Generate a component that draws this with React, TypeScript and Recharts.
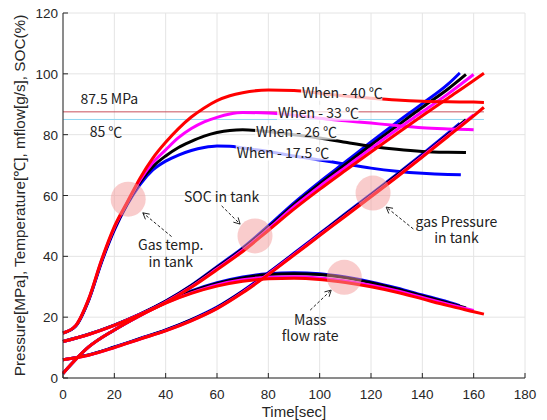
import React from 'react';
import { LineChart, Line, XAxis, YAxis, CartesianGrid, ReferenceLine, ReferenceDot } from 'recharts';

// time grids (sec)
const TEMP_T_BLUE = [0, 5, 10, 15, 20, 25, 30, 35, 40, 45, 50, 55, 60, 65, 70, 80, 90, 100, 110, 120, 130, 140, 150, 155];
const TEMP_T_BLACK = [0, 5, 10, 15, 20, 25, 30, 35, 40, 45, 50, 55, 60, 65, 70, 80, 90, 100, 110, 120, 130, 140, 150, 157];
const TEMP_T_MAGENTA = [0, 5, 10, 15, 20, 25, 30, 35, 40, 45, 50, 55, 60, 65, 70, 80, 90, 100, 110, 120, 130, 140, 150, 160];
const TEMP_T_RED = [0, 5, 10, 15, 20, 25, 30, 35, 40, 45, 50, 55, 60, 65, 70, 80, 90, 100, 110, 120, 130, 140, 150, 160, 164];

const T_BLUE = [0, 10, 20, 30, 40, 50, 60, 70, 80, 90, 100, 110, 120, 130, 140, 150, 154.6];
const T_BLACK = [0, 10, 20, 30, 40, 50, 60, 70, 80, 90, 100, 110, 120, 130, 140, 150, 157];
const T_MAGENTA = [0, 10, 20, 30, 40, 50, 60, 70, 80, 90, 100, 110, 120, 130, 140, 150, 160];
const T_RED = [0, 10, 20, 30, 40, 50, 60, 70, 80, 90, 100, 110, 120, 130, 140, 150, 160, 164];

// gas temperature in tank
const TEMP_BLUE = [14.8, 17.1, 25.5, 38, 48.6, 57, 63.6, 68.4, 71.3, 73.3, 74.8, 75.8, 76.3, 76.2, 75.6, 74.5, 73, 71.7, 70.3, 69, 68, 67.3, 66.9, 66.8];
const TEMP_BLACK = [14.8, 17.2, 25.7, 38.3, 49, 57.3, 64.4, 69.5, 73, 75.8, 77.8, 79.5, 80.7, 81.4, 81.6, 81, 80, 78.9, 77.5, 76.2, 75.2, 74.5, 74.2, 74.1];
const TEMP_MAGENTA = [14.8, 17.3, 25.9, 38.6, 49.4, 57.6, 65, 70.8, 75, 79, 82, 84.2, 85.7, 86.8, 87.3, 87.1, 86.4, 85.4, 84.6, 83.8, 83, 82.3, 81.9, 81.6];
const TEMP_RED = [14.8, 17.3, 26, 38.8, 49.8, 57.8, 65.7, 72.3, 77.5, 82, 85.8, 88.8, 91.2, 92.8, 93.8, 94.7, 94.5, 93.6, 92.7, 92, 91.4, 91, 90.8, 90.7, 90.6];

// SOC in tank
const SOC_BLUE = [12, 14.4, 17.4, 21, 25.3, 30.5, 36.6, 42.8, 50, 57.6, 64.5, 71, 77.6, 84, 90.2, 96.6, 100.3];
const SOC_BLACK = [12, 14.4, 17.4, 21, 25.2, 30.3, 36.3, 42.4, 49.5, 57, 63.8, 70.2, 76.6, 82.8, 89, 95, 99.8];
const SOC_MAGENTA = [12, 14.3, 17.3, 20.9, 25, 30, 35.9, 42, 49, 56.3, 63, 69.2, 75.5, 81.6, 87.5, 93.4, 99.8];
const SOC_RED = [12, 14.3, 17.3, 20.8, 24.8, 29.8, 35.6, 41.6, 48.5, 55.5, 62, 68.2, 74.3, 80.3, 86.2, 92, 97.8, 100.2];

// gas pressure in tank
const PRES_BLUE = [6, 7.6, 10.2, 13, 15.8, 19.2, 23.3, 28.6, 34.6, 41, 47.5, 54, 60.4, 66.9, 73.6, 80.5, 83.7];
const PRES_BLACK = [6, 7.6, 10.1, 12.9, 15.7, 19.1, 23.1, 28.4, 34.4, 40.8, 47.2, 53.7, 60.1, 66.6, 73.2, 80, 84.9];
const PRES_MAGENTA = [6, 7.5, 10, 12.8, 15.6, 18.9, 22.9, 28.2, 34.2, 40.6, 47, 53.4, 59.8, 66.2, 72.9, 79.7, 86.5];
const PRES_RED = [6, 7.5, 10, 12.8, 15.5, 18.8, 22.8, 28, 34, 40.4, 46.8, 53.2, 59.6, 66, 72.6, 79.4, 86.2, 89];

// mass flow rate
const FLOW_BLUE = [1.5, 10.2, 15.8, 20.6, 25, 28.6, 31.3, 33.2, 34.3, 34.6, 34.3, 33.2, 31.6, 29.6, 27.3, 25, 23.8];
const FLOW_BLACK = [1.5, 10.2, 15.8, 20.6, 24.9, 28.4, 31.1, 32.9, 34, 34.3, 34, 33, 31.3, 29.3, 27, 24.7, 23];
const FLOW_MAGENTA = [1.5, 10.2, 15.8, 20.5, 24.7, 28, 30.6, 32.3, 33.1, 33.3, 32.9, 31.9, 30.5, 28.7, 26.5, 24.3, 22.2];
const FLOW_RED = [1.5, 10.2, 15.8, 20.5, 24.6, 27.8, 30.2, 31.8, 32.6, 32.8, 32.4, 31.4, 30, 28.2, 26, 23.8, 21.8, 21];

const X_TICKS = [0, 20, 40, 60, 80, 100, 120, 140, 160, 180];
const Y_TICKS = [0, 20, 40, 60, 80, 100, 120];

const FONT = "'Liberation Sans', Arial, sans-serif";
const NOTE_FONT = "'Noto Sans CJK KR', 'Noto Sans', sans-serif";
const INK = '#262626';

const pts = (ts: number[], vs: number[]) => ts.map((t, i) => ({ t, v: vs[i] }));

const series = [
  { id: 'b-temp', color: '#0000ff', data: pts(TEMP_T_BLUE, TEMP_BLUE) },
  { id: 'b-soc', color: '#0000ff', data: pts(T_BLUE, SOC_BLUE) },
  { id: 'b-pres', color: '#0000ff', data: pts(T_BLUE, PRES_BLUE) },
  { id: 'b-flow', color: '#0000ff', data: pts(T_BLUE, FLOW_BLUE) },
  { id: 'k-temp', color: '#000000', data: pts(TEMP_T_BLACK, TEMP_BLACK) },
  { id: 'k-soc', color: '#000000', data: pts(T_BLACK, SOC_BLACK) },
  { id: 'k-pres', color: '#000000', data: pts(T_BLACK, PRES_BLACK) },
  { id: 'k-flow', color: '#000000', data: pts(T_BLACK, FLOW_BLACK) },
  { id: 'm-temp', color: '#ff00ff', data: pts(TEMP_T_MAGENTA, TEMP_MAGENTA) },
  { id: 'm-soc', color: '#ff00ff', data: pts(T_MAGENTA, SOC_MAGENTA) },
  { id: 'm-pres', color: '#ff00ff', data: pts(T_MAGENTA, PRES_MAGENTA) },
  { id: 'm-flow', color: '#ff00ff', data: pts(T_MAGENTA, FLOW_MAGENTA) },
  { id: 'r-temp', color: '#ff0000', data: pts(TEMP_T_RED, TEMP_RED) },
  { id: 'r-soc', color: '#ff0000', data: pts(T_RED, SOC_RED) },
  { id: 'r-pres', color: '#ff0000', data: pts(T_RED, PRES_RED) },
  { id: 'r-flow', color: '#ff0000', data: pts(T_RED, FLOW_RED) },
];

// annotation circles
const spots = [
  { t: 25.4, v: 58.8 },
  { t: 74.8, v: 46.7 },
  { t: 120.8, v: 60.8 },
  { t: 109.6, v: 33.1 },
];

// dashed arrows, head at the second point
const arrows = [
  [{ x: 42.3, y: 46.5 }, { x: 31.1, y: 54.3 }],
  [{ x: 61.8, y: 56.6 }, { x: 69, y: 50.6 }],
  [{ x: 136.5, y: 49 }, { x: 125.9, y: 56.2 }],
  [{ x: 96.3, y: 22.3 }, { x: 104.5, y: 28.9 }],
];

const whenLabels = [
  { t: 93.1, v: 93.8, text: 'When - 40 ℃' },
  { t: 83.8, v: 87.2, text: 'When - 33 ℃' },
  { t: 75.2, v: 81, text: 'When - 26 ℃' },
  { t: 67.7, v: 74.1, text: 'When - 17.5 ℃' },
];

// anchored at the first line; second line (if any) sits 16px lower
const notes = [
  { t: 6.8, v: 91.7, lines: ['87.5 MPa'], anchor: 'start' },
  { t: 10.4, v: 80.9, lines: ['85 ℃'], anchor: 'start' },
  { t: 61.8, v: 59.4, lines: ['SOC in tank'], anchor: 'middle' },
  { t: 42, v: 43.6, lines: ['Gas temp.', 'in tank'], anchor: 'middle' },
  { t: 153.3, v: 51.2, lines: ['gas Pressure', 'in tank'], anchor: 'middle' },
  { t: 96.3, v: 19.1, lines: ['Mass', 'flow rate'], anchor: 'middle' },
];

const arrowShape = (props: any) => {
  const { x1, y1, x2, y2 } = props;
  const ang = Math.atan2(y2 - y1, x2 - x1);
  const len = 7;
  const sp = 0.5;
  const ax = x2 - len * Math.cos(ang - sp);
  const ay = y2 - len * Math.sin(ang - sp);
  const bx = x2 - len * Math.cos(ang + sp);
  const by = y2 - len * Math.sin(ang + sp);
  return (
    <g>
      <line x1={x1} y1={y1} x2={x2} y2={y2} stroke="#222" strokeWidth={1} strokeDasharray="3 2" />
      <polyline points={`${ax},${ay} ${x2},${y2} ${bx},${by}`} fill="none" stroke="#222" strokeWidth={1} />
    </g>
  );
};

const noteShape = (lines: string[], anchor: string) => (props: any) => (
  <text x={props.cx} y={props.cy + 5} textAnchor={anchor} fontFamily={NOTE_FONT} fontSize={14} fill="#222">
    {lines.map((ln, i) => (
      <tspan key={i} x={props.cx} dy={i === 0 ? 0 : 16.2}>
        {ln}
      </tspan>
    ))}
  </text>
);

const whenShape = (text: string) => (props: any) => {
  const w = text.length * 7.4;
  return (
    <g>
      <rect x={props.cx - 1} y={props.cy - 8} width={w} height={16} fill="#fff" fillOpacity={0.75} />
      <text x={props.cx} y={props.cy} dy={5} textAnchor="start" fontFamily={NOTE_FONT} fontSize={14} fill="#222">
        {text}
      </text>
    </g>
  );
};

const YTick = (props: any) => {
  const { x, y, payload } = props;
  return (
    <g>
      <line x1={x + 5} y1={y} x2={x + 10} y2={y} stroke={INK} />
      <text x={x} y={y} dy={5} textAnchor="end" fontFamily={FONT} fontSize={13.5} fill={INK}>
        {payload.value}
      </text>
    </g>
  );
};

const XTick = (props: any) => {
  const { x, y, payload } = props;
  return (
    <g>
      <line x1={x} y1={y - 8} x2={x} y2={y - 13} stroke={INK} />
      <text x={x} y={y} dy={12.5} textAnchor="middle" fontFamily={FONT} fontSize={13.5} fill={INK}>
        {payload.value}
      </text>
    </g>
  );
};

const App: React.FC = () => {
  return (
    <div style={{ position: 'absolute', left: 0, top: 0, width: 547, height: 420, background: '#fff' }}>
      <LineChart width={547} height={420} margin={{ top: 13, right: 22, bottom: 0, left: 0 }}>
        <CartesianGrid stroke="#e4e4e4" />
        <XAxis
          type="number"
          dataKey="t"
          domain={[0, 180]}
          ticks={X_TICKS}
          height={42}
          tickSize={0}
          tickMargin={8}
          tickLine={false}
          tick={<XTick />}
          axisLine={{ stroke: INK }}
          allowDuplicatedCategory={false}
          label={(p: any) => {
            const vb = p.viewBox;
            return (
              <text x={vb.x + vb.width / 2} y={vb.y + 39} textAnchor="middle" fontFamily={FONT} fontSize={15} fill={INK}>
                Time[sec]
              </text>
            );
          }}
        />
        <YAxis
          type="number"
          dataKey="v"
          domain={[0, 120]}
          ticks={Y_TICKS}
          width={63}
          tickSize={0}
          tickMargin={5}
          tickLine={false}
          tick={<YTick />}
          axisLine={{ stroke: INK }}
          label={(p: any) => {
            const vb = p.viewBox;
            const cy = vb.y + vb.height / 2;
            return (
              <text x={20} y={cy} transform={`rotate(-90 20 ${cy})`} dy={5} textAnchor="middle" fontFamily={FONT} fontSize={15.3} fill={INK}>
                Pressure[MPa], Temperature[℃], mflow[g/s], SOC(%)
              </text>
            );
          }}
        />
        <ReferenceLine segment={[{ x: 0, y: 87.5 }, { x: 164, y: 87.5 }]} stroke="#c8505a" strokeWidth={1} ifOverflow="visible" />
        <ReferenceLine segment={[{ x: 0, y: 85 }, { x: 164, y: 85 }]} stroke="#8fd6f2" strokeWidth={1} ifOverflow="visible" />
        {series.map((s) => (
          <Line
            key={s.id}
            data={s.data}
            dataKey="v"
            type="monotone"
            stroke={s.color}
            strokeWidth={3}
            dot={false}
            activeDot={false}
            isAnimationActive={false}
          />
        ))}
        {whenLabels.map((w) => (
          <ReferenceDot key={w.text} x={w.t} y={w.v} r={0} ifOverflow="visible" shape={whenShape(w.text)} />
        ))}
        {spots.map((s, i) => (
          <ReferenceDot key={'spot' + i} x={s.t} y={s.v} r={17.5} fill="#f49a9a" fillOpacity={0.5} stroke="none" ifOverflow="visible" />
        ))}
        {arrows.map((a, i) => (
          <ReferenceLine key={'arr' + i} segment={a} ifOverflow="visible" shape={arrowShape} />
        ))}
        {notes.map((n, i) => (
          <ReferenceDot key={'note' + i} x={n.t} y={n.v} r={0} ifOverflow="visible" shape={noteShape(n.lines, n.anchor)} />
        ))}
      </LineChart>
    </div>
  );
};

export default App;
